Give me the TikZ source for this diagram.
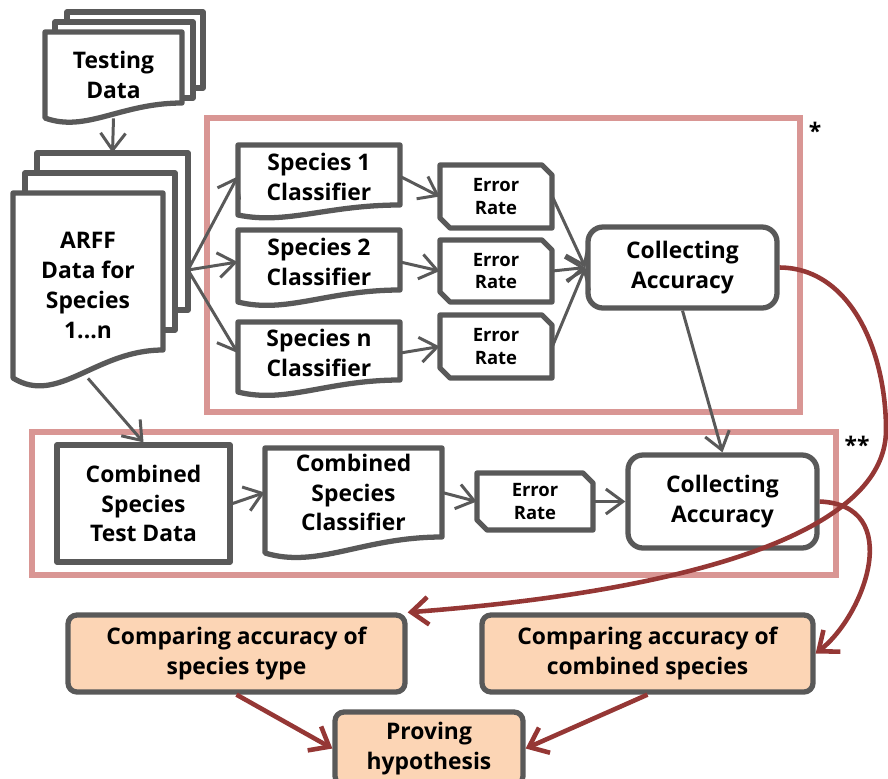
\documentclass[tikz,border=0pt]{standalone}
\usepackage{fontspec}
\setmainfont{Open Sans}
\usetikzlibrary{arrows.meta}
\definecolor{boxgray}{HTML}{595959}
\definecolor{framepink}{HTML}{D99694}
\definecolor{flowred}{HTML}{953735}
\definecolor{peach}{HTML}{FCD5B5}
% document page with wavy bottom: left, top, right, bottom-left, wave
\newcommand{\docpath}[5]{%
  \draw[box] (#1,#2) -- (#3,#2) -- (#3,{#4-#5})
    .. controls ({#3-0.45*(#3-#1)},{#4-#5}) and ({#1+0.3*(#3-#1)},{#4+#5}) .. (#1,#4) -- cycle;}
% error rate box with two cut corners
\newcommand{\ratepath}[4]{%
  \draw[box] (#1,#2) -- ({#3-10},#2) -- (#3,{#2+10}) -- (#3,#4) -- ({#1+10},#4) -- (#1,{#4-10}) -- cycle;}
\begin{document}
\begin{tikzpicture}[x=0.02cm, y=-0.02cm,
    box/.style={draw=boxgray, line width=3pt, fill=white, line join=round},
    boxsize/.style 2 args={minimum width={#1*0.02cm}, minimum height={#2*0.02cm}},
    txt/.style={inner sep=0pt, align=center, font=\fontsize{13}{17}\selectfont\bfseries},
    ratetxt/.style={txt, font=\fontsize{10.5}{13}\selectfont\bfseries},
    groupframe/.style={draw=framepink, line width=3pt},
    flow/.style={draw=boxgray, line width=1.7pt, -{Straight Barb[length=3.4mm,width=5mm]}},
    redflow/.style={draw=flowred, line width=2.6pt, -{Straight Barb[length=3.4mm,width=5.5mm]}},
    peachbox/.style={box, fill=peach, rounded corners=0.18cm}]
  \useasboundingbox (0,0) rectangle (888,778);
  \clip (0,0) rectangle (888,778);

  \draw[groupframe] (207,118) rectangle (800,412);
  \draw[groupframe] (32,432) rectangle (836,575);
  \node[txt] (star1) at (815,131) {*};
  \node[txt] (star2) at (857,445) {**};

  \draw[box] (67,12) rectangle (203,88);
  \draw[box] (55,22) rectangle (193,98);
  \docpath{45}{32}{182}{118}{15}
  \node[txt, boxsize={137}{86}] (test) at (113.5,75) {Testing\\Data};

  \draw[box] (37,153) rectangle (188,310);
  \draw[box] (25,173) rectangle (175,330);
  \docpath{13}{193}{163}{378}{28}
  \node[txt, boxsize={150}{185}] (arff) at (88,285.5) {ARFF\\Data for\\Species\\1...n};
  \node[inner sep=0pt, boxsize={151}{157}] (arffback) at (112.5,231.5) {};
  \coordinate (fan) at (188,270);

  \docpath{238}{145}{400}{215}{10}
  \node[txt, boxsize={162}{63}] (s1) at (319,176.5) {Species 1\\Classifier};
  \docpath{238}{230}{400}{302}{12}
  \node[txt, boxsize={162}{64}] (s2) at (319,262) {Species 2\\Classifier};
  \docpath{238}{322}{400}{392}{12}
  \node[txt, boxsize={162}{62}] (sn) at (319,353) {Species n\\Classifier};

  \ratepath{440}{165}{552}{228}
  \node[ratetxt, boxsize={112}{63}] (e1) at (496,196.5) {Error\\Rate};
  \ratepath{440}{240}{552}{302}
  \node[ratetxt, boxsize={112}{62}] (e2) at (496,271) {Error\\Rate};
  \ratepath{440}{315}{552}{378}
  \node[ratetxt, boxsize={112}{63}] (e3) at (496,346.5) {Error\\Rate};

  \node[box, txt, rounded corners=0.3cm, boxsize={189}{81}] (ca1) at (682.5,267.5) {Collecting\\Accuracy};

  \node[box, txt, boxsize={173}{117}] (ctd) at (143.5,503.5) {Combined\\Species\\Test Data};
  \docpath{265}{448}{442}{553}{16}
  \node[txt, boxsize={177}{89}] (cc) at (353.5,492.5) {Combined\\Species\\Classifier};
  \ratepath{477}{473}{593}{530}
  \node[ratetxt, boxsize={116}{57}] (e4) at (535,501.5) {Error\\Rate};
  \node[box, txt, rounded corners=0.3cm, boxsize={189}{93}] (ca2) at (722.5,501.5) {Collecting\\Accuracy};

  \node[peachbox, txt, boxsize={337}{77}] (cmp1) at (236.5,653.5) {Comparing accuracy of\\species type};
  \node[peachbox, txt, boxsize={331}{77}] (cmp2) at (647.5,653.5) {Comparing accuracy of\\combined species};
  \node[peachbox, txt, boxsize={188}{73}] (prove) at (429,748.5) {Proving\\hypothesis};

  \draw[flow] (test.south) -- (arffback.north);
  \draw[flow] (fan) -- (s1.west);
  \draw[flow] (fan) -- (s2.west);
  \draw[flow] (fan) -- (sn.west);
  \draw[flow] (arff.south) -- (ctd.north);
  \draw[flow] (s1.east) -- (e1.west);
  \draw[flow] (s2.east) -- (e2.west);
  \draw[flow] (sn.east) -- (e3.west);
  \draw[flow] (e1.east) -- (ca1.west);
  \draw[flow] (e2.east) -- (ca1.west);
  \draw[flow] (e3.east) -- (ca1.west);
  \draw[flow] (ca1.south) -- (ca2.north);
  \draw[flow] (ctd.east) -- (cc.west);
  \draw[flow] (cc.east) -- (e4.west);
  \draw[flow] (e4.east) -- (ca2.west);

  \draw[redflow] (ca1.east) .. controls (850,268) and (886,350) .. (886,430)
    .. controls (886,530) and (700,590) .. (cmp1.north east);
  \draw[redflow] (ca2.east) .. controls (905,505) and (865,615) .. (cmp2.east);
  \draw[redflow] (cmp1.south) -- (prove.west);
  \draw[redflow] (cmp2.south) -- (prove.east);
\end{tikzpicture}
\end{document}
